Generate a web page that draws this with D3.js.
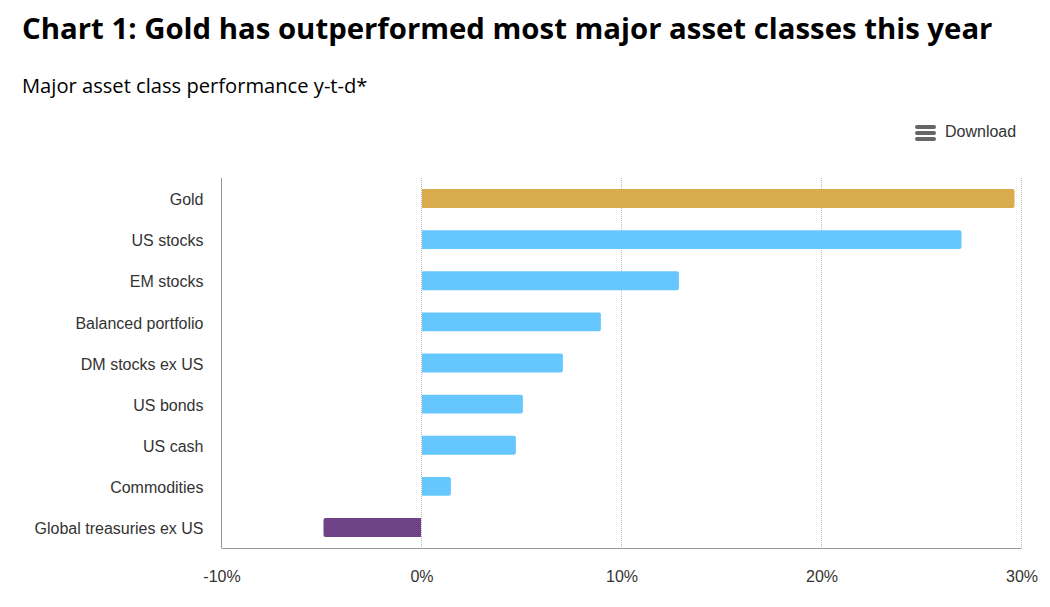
<!DOCTYPE html>
<html>
<head>
<meta charset="utf-8">
<script src="https://cdn.jsdelivr.net/npm/d3@7"></script>
<style>
  html, body { margin: 0; padding: 0; background: #fff; }
  svg { display: block; }
</style>
</head>
<body>
<svg id="chart" width="1050" height="607"></svg>
<script>
const categories = ["Gold", "US stocks", "EM stocks", "Balanced portfolio", "DM stocks ex US", "US bonds", "US cash", "Commodities", "Global treasuries ex US"]
const values = [29.65, 27.0, 12.87, 8.97, 7.07, 5.07, 4.72, 1.47, -4.9]
const barColors = ["#d8ab4c", "#66c7ff", "#66c7ff", "#66c7ff", "#66c7ff", "#66c7ff", "#66c7ff", "#66c7ff", "#704386"]
const xTicks = [-10, 0, 10, 20, 30]

const margin = { top: 178, right: 28.5, bottom: 59, left: 221.5 }
const width = 1050, height = 607

const svg = d3.select("#chart")

const x = d3.scaleLinear().domain([-10, 30]).range([margin.left, width - margin.right])
const y = d3.scaleBand().domain(categories).range([margin.top, height - margin.bottom]).paddingInner(0.54).paddingOuter(0.27)

// titles
svg.append("text").attr("x", 22).attr("y", 39)
  .attr("font-family", "'Open Sans'").attr("font-weight", 700).attr("font-size", 29.35).attr("fill", "#000")
  .text("Chart 1: Gold has outperformed most major asset classes this year")
svg.append("text").attr("x", 22).attr("y", 93)
  .attr("font-family", "'Open Sans'").attr("font-size", 20.15).attr("fill", "#000")
  .text("Major asset class performance y-t-d*")

// download menu
const menu = svg.append("g")
menu.selectAll("rect").data([126, 132, 138]).enter().append("rect")
  .attr("x", 915).attr("y", d => d - 1).attr("width", 21).attr("height", 4).attr("rx", 2)
  .attr("fill", "#666")
menu.append("text").attr("x", 945).attr("y", 137)
  .attr("font-family", "'Liberation Sans'").attr("font-size", 16).attr("fill", "#333")
  .text("Download")

// gridlines
svg.append("g").selectAll("line").data(xTicks.slice(1)).enter().append("line")
  .attr("x1", d => x(d)).attr("x2", d => x(d))
  .attr("y1", margin.top).attr("y2", height - margin.bottom)
  .attr("stroke", "#bbb").attr("stroke-dasharray", "1,1")

// bars, rounded on the far end only
function barPath(d, yTop) {
  const x0 = x(0) + (d < 0 ? -0.5 : 0.5), x1 = x(d), t = y.bandwidth(), r = 2
  const s = d < 0 ? -1 : 1
  const sweep = d < 0 ? 0 : 1
  return `M${x0},${yTop}H${x1 - s * r}A${r},${r} 0 0 ${sweep} ${x1},${yTop + r}V${yTop + t - r}A${r},${r} 0 0 ${sweep} ${x1 - s * r},${yTop + t}H${x0}Z`
}
svg.append("g").selectAll("path").data(categories).enter().append("path")
  .attr("d", (c, i) => barPath(values[i], y(c)))
  .attr("fill", (c, i) => barColors[i])

// axes
const axisStyle = g => {
  g.select(".domain").remove()
  g.selectAll(".tick line").remove()
  g.selectAll("text").attr("font-family", "'Liberation Sans'").attr("font-size", 16).attr("fill", "#333")
}
svg.append("g").attr("transform", `translate(0,${height - margin.bottom})`)
  .call(d3.axisBottom(x).tickValues(xTicks).tickFormat(d => d + "%").tickPadding(17))
  .call(axisStyle)
svg.append("g").attr("transform", `translate(${margin.left},1.5)`)
  .call(d3.axisLeft(y).tickSize(0).tickPadding(18))
  .call(axisStyle)

svg.append("line").attr("x1", margin.left).attr("x2", margin.left)
  .attr("y1", margin.top).attr("y2", height - margin.bottom).attr("stroke", "#999").attr("stroke-width", 1)
svg.append("line").attr("x1", margin.left).attr("x2", width - margin.right)
  .attr("y1", height - margin.bottom + 0.5).attr("y2", height - margin.bottom + 0.5).attr("stroke", "#999").attr("stroke-width", 1)
</script>
</body>
</html>
